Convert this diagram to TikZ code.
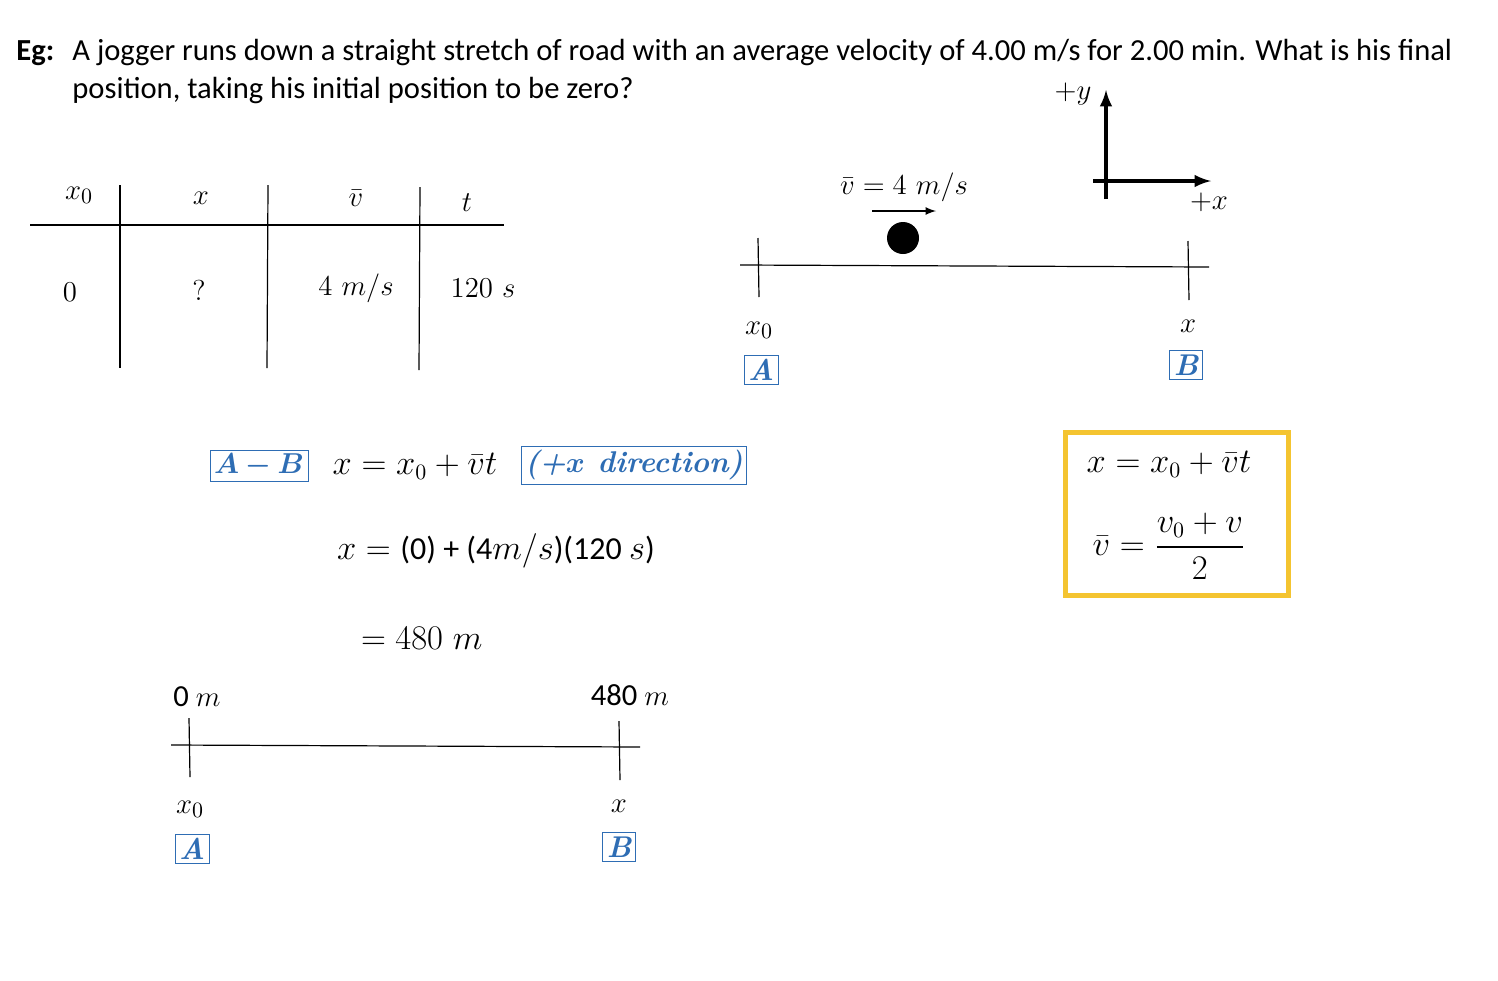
\documentclass[tikz,border=0pt]{standalone}
\usepackage{amsmath,bm}
\usepackage{fontspec}
\setsansfont{Carlito}
\definecolor{yel}{HTML}{F4C430}
\definecolor{bl}{HTML}{2E6DB4}
\begin{document}
\begin{tikzpicture}[x=0.5pt,y=-0.5pt,
  t/.style={font=\fontsize{15}{18}\selectfont},
  te/.style={font=\fontsize{16}{19}\selectfont},
  ts/.style={font=\sffamily\fontsize{15.3}{19}\selectfont},
  bb/.style={draw=bl,text=bl,inner sep=2pt,font=\fontsize{15}{18}\selectfont\bfseries},
  ln/.style={draw=black,line width=0.6pt}]
\useasboundingbox (0,0) rectangle (1498,980);
% header
\node[ts,anchor=base west,inner sep=0pt] (eg) at (16,60) {\textbf{Eg:}};
\node[ts,anchor=base west,inner sep=0pt] (h1) at (72,60) {A jogger runs down a straight stretch of road with an average velocity of 4.00 m/s for 2.00 min. What is his final};
\node[ts,anchor=base west,inner sep=0pt] (h2) at (72,98) {position, taking his initial position to be zero?};
% table
\draw[ln] (30,225) -- (504,225);
\draw[ln] (120,185) -- (120,368);
\draw[ln] (268,185) -- (267,368);
\draw[ln] (420,187) -- (419,370);
\node[t] (c1) at (79,195) {$x_0$};
\node[t] (c2) at (201,198) {$x$};
\node[t] (c3) at (356,198) {$\bar v$};
\node[t] (c4) at (467,203) {$t$};
\node[t] (d1) at (70,292) {$0$};
\node[t] (d2) at (199,290) {$?$};
\node[t] (d3) at (356,288) {$4\ m/s$};
\node[t] (d4) at (483,288) {$120\ s$};
% axes
\coordinate (oy) at (1106,90);
\coordinate (ox) at (1211,181);
\draw[line width=1.8pt,-latex] (1106,199) -- (oy);
\draw[line width=1.8pt,-latex] (1093,181) -- (ox);
\node[t] (py) at (1073,94) {$+y$};
\node[t] (px) at (1209,202) {$+x$};
% top line
\draw[ln] (740,265) -- (1209,267);
\draw[ln] (758,238) -- (759,297);
\draw[ln] (1188,241) -- (1189,300);
\node[t] (vb) at (904,187) {$\bar v = 4\ m/s$};
\coordinate (a1) at (872,211); \coordinate (a2) at (936,211);
\draw[-latex,line width=0.8pt] (a1) -- (a2);
\node[circle,fill=black,minimum size=16pt,inner sep=0pt] (ball) at (903,238) {};
\node[t] (tx0) at (759,330) {$x_0$};
\node[t] (tx) at (1188,326) {$x$};
\node[bb] (tA) at (761,370) {\itshape A};
\node[bb] (tB) at (1186,365) {\itshape B};
% equations
\node[bb] (ab) at (259,466) {$\bm{A-B}$};
\node[te] (e1) at (415,466) {$x = x_0 + \bar v t$};
\node[bb] (dir) at (634,465) {\itshape (+$\bm{x}$ direction)};
\node[te,anchor=west] (e2) at (330,551) {$x = $ \sffamily(0) + (4$m/s$)(120 $s$)};
\node[te,anchor=west] (e3) at (354,638) {$= 480\ m$};
% yellow box
\node[draw=yel,line width=2.5pt,minimum width=111.5pt,minimum height=81.5pt] (yb) at (1177,514) {};
\node[te] (y1) at (1169,464) {$x = x_0 + \bar v t$};
\node[te] (y2) at (1169,546) {$\bar v = \dfrac{v_0 + v}{2}$};
% bottom line
\draw[ln] (171,745) -- (640,747);
\draw[ln] (189,718) -- (190,777);
\draw[ln] (619,721) -- (620,780);
\node[ts] (l0) at (197,697) {0 $m$};
\node[ts] (l480) at (630,695) {480 $m$};
\node[t] (bx0) at (190,809) {$x_0$};
\node[t] (bx) at (619,806) {$x$};
\node[bb] (bA) at (192,849) {\itshape A};
\node[bb] (bB) at (619,847) {\itshape B};
\end{tikzpicture}
\end{document}
